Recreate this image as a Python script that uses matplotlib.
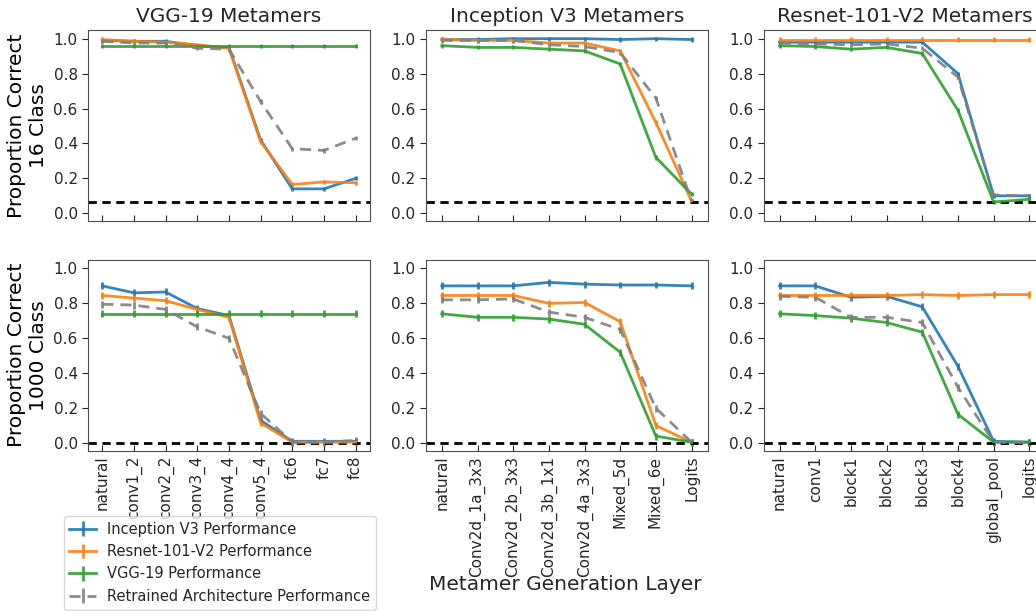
import numpy as np
import matplotlib.pyplot as plt

# layer names for each metamer model
vgg_layers = ['natural', 'conv1_2', 'conv2_2', 'conv3_4', 'conv4_4', 'conv5_4', 'fc6', 'fc7', 'fc8']
inc_layers = ['natural', 'Conv2d_1a_3x3', 'Conv2d_2b_3x3', 'Conv2d_3b_1x1', 'Conv2d_4a_3x3',
              'Mixed_5d', 'Mixed_6e', 'Logits']
res_layers = ['natural', 'conv1', 'block1', 'block2', 'block3', 'block4', 'global_pool', 'logits']

### 16 class
vgg16_inception = [0.99, 0.985, 0.985, 0.96, 0.95, 0.42, 0.14, 0.14, 0.20]
vgg16_resnet = [0.995, 0.985, 0.98, 0.965, 0.945, 0.41, 0.165, 0.18, 0.175]
vgg16_vgg = [0.96, 0.96, 0.96, 0.96, 0.96, 0.96, 0.96, 0.96, 0.96]
vgg16_retrained = [0.985, 0.975, 0.975, 0.945, 0.94, 0.64, 0.37, 0.36, 0.43]

inc16_inception = [0.995, 0.995, 1.0, 1.0, 1.0, 0.995, 1.0, 0.995]
inc16_resnet = [0.995, 0.99, 0.99, 0.975, 0.975, 0.93, 0.52, 0.07]
inc16_vgg = [0.96, 0.95, 0.95, 0.94, 0.93, 0.855, 0.32, 0.11]
inc16_retrained = [0.99, 0.99, 0.99, 0.965, 0.955, 0.92, 0.66, 0.07]

res16_inception = [0.98, 0.98, 0.98, 0.98, 0.98, 0.80, 0.10, 0.10]
res16_resnet = [0.995, 0.995, 0.995, 0.995, 0.995, 0.995, 0.995, 0.995]
res16_vgg = [0.96, 0.955, 0.94, 0.95, 0.915, 0.59, 0.065, 0.08]
res16_retrained = [0.975, 0.97, 0.965, 0.97, 0.945, 0.78, 0.105, 0.10]

### 1000 class
vgg1k_inception = [0.90, 0.86, 0.865, 0.77, 0.73, 0.13, 0.01, 0.01, 0.01]
vgg1k_resnet = [0.845, 0.83, 0.815, 0.765, 0.72, 0.115, 0.005, 0.005, 0.005]
vgg1k_vgg = [0.74, 0.74, 0.74, 0.74, 0.74, 0.74, 0.74, 0.74, 0.74]
vgg1k_retrained = [0.795, 0.79, 0.765, 0.665, 0.60, 0.17, 0.005, 0.005, 0.015]

inc1k_inception = [0.90, 0.90, 0.90, 0.92, 0.91, 0.905, 0.905, 0.90]
inc1k_resnet = [0.845, 0.845, 0.845, 0.80, 0.805, 0.695, 0.10, 0.005]
inc1k_vgg = [0.74, 0.72, 0.72, 0.71, 0.68, 0.52, 0.04, 0.005]
inc1k_retrained = [0.82, 0.82, 0.825, 0.75, 0.72, 0.65, 0.20, 0.005]

res1k_inception = [0.90, 0.90, 0.835, 0.84, 0.78, 0.44, 0.01, 0.005]
res1k_resnet = [0.845, 0.845, 0.845, 0.845, 0.85, 0.845, 0.85, 0.85]
res1k_vgg = [0.74, 0.73, 0.715, 0.69, 0.635, 0.165, 0.005, 0.005]
res1k_retrained = [0.84, 0.835, 0.72, 0.72, 0.69, 0.32, 0.005, 0.005]

chance = [1 / 16., 1 / 1000.]
row_err = [0.012, 0.02]

titles = ['VGG-19 Metamers', 'Inception V3 Metamers', 'Resnet-101-V2 Metamers']
row_labels = ['Proportion Correct\n16 Class', 'Proportion Correct\n1000 Class']
series_names = ['Inception V3 Performance', 'Resnet-101-V2 Performance',
                'VGG-19 Performance', 'Retrained Architecture Performance']

panels = [
    [(vgg_layers, [vgg16_inception, vgg16_resnet, vgg16_vgg, vgg16_retrained]),
     (inc_layers, [inc16_inception, inc16_resnet, inc16_vgg, inc16_retrained]),
     (res_layers, [res16_inception, res16_resnet, res16_vgg, res16_retrained])],
    [(vgg_layers, [vgg1k_inception, vgg1k_resnet, vgg1k_vgg, vgg1k_retrained]),
     (inc_layers, [inc1k_inception, inc1k_resnet, inc1k_vgg, inc1k_retrained]),
     (res_layers, [res1k_inception, res1k_resnet, res1k_vgg, res1k_retrained])],
]

colors = ['#1f77b4', '#ff7f0e', '#2ca02c', 'gray']
styles = ['-', '-', '-', '--']

plt.rcParams['text.color'] = '#262626'
plt.rcParams['xtick.color'] = '#262626'
plt.rcParams['ytick.color'] = '#262626'

fig = plt.figure(figsize=(10.36, 6.11), dpi=100)
lefts = [0.085, 0.411, 0.737]
bottoms = [0.638, 0.262]
w, h = 0.272, 0.313

handles = []
for r in range(2):
    for c in range(3):
        layers, series = panels[r][c]
        ax = fig.add_axes([lefts[c], bottoms[r], w, h])
        x = np.arange(len(layers))
        for i in range(4):
            eb = ax.errorbar(x, series[i], yerr=row_err[r], color=colors[i], ls=styles[i],
                             lw=2, elinewidth=2, alpha=0.9, dashes=(4, 2.5) if i == 3 else (None, None))
            if r == 0 and c == 0:
                handles.append(eb)
        ax.axhline(chance[r], color='black', ls='--', lw=2, dashes=(3, 2))
        ax.set_ylim(-0.045, 1.05)
        ax.set_xlim(-0.45, len(layers) - 0.55)
        ax.set_yticks([0, 0.2, 0.4, 0.6, 0.8, 1.0])
        ax.set_xticks(x)
        if r == 1:
            ax.set_xticklabels(layers, rotation=90)
        else:
            ax.set_xticklabels([])
            ax.set_title(titles[c], fontsize=14.5)
        ax.tick_params(axis='x', direction='in', labelsize=11, length=4)
        ax.tick_params(axis='y', direction='out', labelsize=11, length=4)
        for s in ax.spines.values():
            s.set_edgecolor('0.3')
        if c == 0:
            ax.set_ylabel(row_labels[r], fontsize=14.5)

fig.text(0.546, 0.043, 'Metamer Generation Layer', ha='center', va='center', fontsize=14.5)
fig.legend(handles, series_names, loc='lower left', bbox_to_anchor=(0.06, 0.0),
           fontsize=10.5, handlelength=1.8, borderaxespad=0.1)

plt.savefig('out.png', dpi=100)
